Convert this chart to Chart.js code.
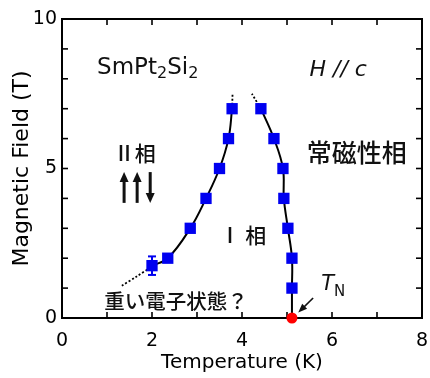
<!DOCTYPE html>
<html>
<head>
<meta charset="utf-8">
<script src="https://cdn.jsdelivr.net/npm/chart.js@4.4.0/dist/chart.umd.min.js"></script>
<style>
html, body { margin: 0; padding: 0; background: #fff; }
#grafico { display: block; }
</style>
</head>
<body>
<canvas id="grafico" width="430" height="378"></canvas>
<script>
// Datos: T (K) y H (T)
var tempIzq  = [2.0, 2.35, 2.85, 3.2, 3.5, 3.7, 3.78];
var campoIzq = [1.75, 2.0, 3.0, 4.0, 5.0, 6.0, 7.0];
var errorIzq = [0.31, 0, 0, 0, 0, 0, 0];
var tempDer  = [4.42, 4.71, 4.91, 4.93, 5.02, 5.11, 5.11];
var campoDer = [7.0, 6.0, 5.0, 4.0, 3.0, 2.0, 1.0];
var tempNeel  = [5.11];
var campoNeel = [0];

// curvas guia (solida y punteada)
var curvaDerT = [4.42, 4.71, 4.91, 4.93, 5.02, 5.11, 5.11, 5.11];
var curvaDerH = [7.0, 6.0, 5.0, 4.0, 3.0, 2.0, 1.0, 0];
var puntBajoT = [1.33, 1.65, 2.0];
var puntBajoH = [1.08, 1.38, 1.72];
var puntAltoIzqT = [3.78, 3.79];
var puntAltoIzqH = [7.0, 7.5];
var puntAltoDerT = [4.42, 4.22];
var puntAltoDerH = [7.0, 7.5];

// ejes
var ejeX = [0, 8];
var ejeY = [0, 10];
var etiquetasX = [0, 2, 4, 6, 8];
var etiquetasY = [0, 5, 10];

function puntos(ts, hs) {
    return ts.map(function (t, i) { return { x: t, y: hs[i] }; });
}

var fuenteNum = "'DejaVu Sans', 'Liberation Sans', Arial, sans-serif";
var fuenteJp = "'Noto Sans CJK JP', sans-serif";

// textos dentro del grafico (posicion en unidades de datos)
var textos = [
    { texto: 'H // c', t: 5.5, h: 8.3, fuente: 'italic 22px ' + fuenteNum },
    { texto: '常磁性相', t: 5.44, h: 5.55, fuente: '500 25px ' + fuenteJp },
    { texto: 'Ⅱ相', t: 1.15, h: 5.52, fuente: '500 21px ' + fuenteJp },
    { texto: 'Ⅰ 相', t: 3.5, h: 2.78, fuente: '500 21px ' + fuenteJp },
    { texto: '重い電子状態？', t: 0.94, h: 0.57, fuente: '500 20.5px ' + fuenteJp }
];

function linea(ctx, x1, y1, x2, y2) {
    ctx.beginPath();
    ctx.moveTo(x1, y1);
    ctx.lineTo(x2, y2);
    ctx.stroke();
}

function flecha(ctx, x1, y1, x2, y2, ancho, largo) {
    var ang = Math.atan2(y2 - y1, x2 - x1);
    linea(ctx, x1, y1, x2 - Math.cos(ang) * largo * 0.6, y2 - Math.sin(ang) * largo * 0.6);
    ctx.beginPath();
    ctx.moveTo(x2, y2);
    ctx.lineTo(x2 - Math.cos(ang) * largo + Math.sin(ang) * ancho / 2, y2 - Math.sin(ang) * largo - Math.cos(ang) * ancho / 2);
    ctx.lineTo(x2 - Math.cos(ang) * largo - Math.sin(ang) * ancho / 2, y2 - Math.sin(ang) * largo + Math.cos(ang) * ancho / 2);
    ctx.closePath();
    ctx.fill();
}

// marco, marcas hacia adentro y barras de error
var pluginMarco = {
    id: 'marco',
    beforeDatasetsDraw: function (chart) {
        var ctx = chart.ctx, a = chart.chartArea;
        var xs = chart.scales.x, ys = chart.scales.y;
        ctx.save();
        ctx.strokeStyle = '#000';
        ctx.lineWidth = 1.6;
        xs.ticks.forEach(function (tk) {
            var px = xs.getPixelForValue(tk.value);
            linea(ctx, px, a.bottom, px, a.bottom - 6);
            linea(ctx, px, a.top, px, a.top + 6);
        });
        ys.ticks.forEach(function (tk) {
            var py = ys.getPixelForValue(tk.value);
            linea(ctx, a.left, py, a.left + 6, py);
            linea(ctx, a.right, py, a.right - 6, py);
        });
        ctx.lineWidth = 2;
        ctx.strokeRect(a.left, a.top, a.right - a.left, a.bottom - a.top);

        // barras de error
        ctx.strokeStyle = '#0000f0';
        ctx.lineWidth = 2;
        tempIzq.forEach(function (t, i) {
            if (!errorIzq[i]) return;
            var px = xs.getPixelForValue(t);
            var y1 = ys.getPixelForValue(campoIzq[i] - errorIzq[i]);
            var y2 = ys.getPixelForValue(campoIzq[i] + errorIzq[i]);
            linea(ctx, px, y1, px, y2);
            linea(ctx, px - 4, y1, px + 4, y1);
            linea(ctx, px - 4, y2, px + 4, y2);
        });
        ctx.restore();
    },
    afterDatasetsDraw: function (chart) {
        var ctx = chart.ctx;
        var xs = chart.scales.x, ys = chart.scales.y;
        ctx.save();
        ctx.fillStyle = '#111';
        ctx.strokeStyle = '#111';
        ctx.textBaseline = 'middle';
        ctx.textAlign = 'left';

        textos.forEach(function (o) {
            ctx.font = o.fuente;
            ctx.fillText(o.texto, xs.getPixelForValue(o.t), ys.getPixelForValue(o.h));
        });

        // SmPt2Si2 con subindices
        var x = xs.getPixelForValue(0.78), y = ys.getPixelForValue(8.36);
        var partes = [['Sm', 0], ['Pt', 0], ['2', 1], ['Si', 0], ['2', 1]];
        partes.forEach(function (p) {
            ctx.font = p[1] ? '16px ' + fuenteNum : '23px ' + fuenteNum;
            ctx.fillText(p[0], x, y + (p[1] ? 6 : 0));
            x += ctx.measureText(p[0]).width;
        });

        // T_N
        x = xs.getPixelForValue(5.76); y = ys.getPixelForValue(1.12);
        ctx.font = 'italic 21px ' + fuenteNum;
        ctx.fillText('T', x, y);
        x += ctx.measureText('T').width;
        ctx.font = '15px ' + fuenteNum;
        ctx.fillText('N', x, y + 8);

        // flecha hacia T_N
        ctx.lineWidth = 1.6;
        flecha(ctx, xs.getPixelForValue(5.58), ys.getPixelForValue(0.67),
            xs.getPixelForValue(5.25), ys.getPixelForValue(0.18), 7, 9);

        // espines: arriba, arriba, abajo
        ctx.lineWidth = 3;
        var yArr = ys.getPixelForValue(4.88), yAbj = ys.getPixelForValue(3.85);
        [1.38, 1.67].forEach(function (t) {
            var px = xs.getPixelForValue(t);
            flecha(ctx, px, yAbj, px, yArr, 9, 10);
        });
        var pd = xs.getPixelForValue(1.96);
        flecha(ctx, pd, yArr, pd, yAbj, 9, 10);
        ctx.restore();
    }
};

var azul = '#0000f0';

new Chart(document.getElementById('grafico'), {
    type: 'scatter',
    data: {
        datasets: [
            { data: puntos(tempNeel, campoNeel), pointStyle: 'circle', pointRadius: 5.5, backgroundColor: '#f00', borderWidth: 0, clip: false },
            { data: puntos(tempIzq, campoIzq), pointStyle: 'rect', pointRadius: 8, backgroundColor: azul, borderWidth: 0 },
            { data: puntos(tempDer, campoDer), pointStyle: 'rect', pointRadius: 8, backgroundColor: azul, borderWidth: 0 },
            { data: puntos(tempIzq, campoIzq), showLine: true, pointRadius: 0, borderColor: '#000', borderWidth: 2, tension: 0.4 },
            { data: puntos(curvaDerT, curvaDerH), showLine: true, pointRadius: 0, borderColor: '#000', borderWidth: 2, tension: 0.4 },
            { data: puntos(puntBajoT, puntBajoH), showLine: true, pointRadius: 0, borderColor: '#000', borderWidth: 1.8, borderDash: [2, 2], tension: 0.3 },
            { data: puntos(puntAltoIzqT, puntAltoIzqH), showLine: true, pointRadius: 0, borderColor: '#000', borderWidth: 1.8, borderDash: [2, 2] },
            { data: puntos(puntAltoDerT, puntAltoDerH), showLine: true, pointRadius: 0, borderColor: '#000', borderWidth: 1.8, borderDash: [2, 2] }
        ]
    },
    options: {
        responsive: false,
        animation: false,
        layout: { padding: { top: 19, right: 8, left: 0, bottom: 0 } },
        plugins: { legend: { display: false }, tooltip: { enabled: false } },
        scales: {
            x: {
                type: 'linear', min: ejeX[0], max: ejeX[1],
                afterFit: function (s) { s.height = 60; s.paddingLeft = 0; s.paddingRight = 0; },
                grid: { display: false, drawTicks: false },
                border: { display: false },
                ticks: {
                    stepSize: 1, padding: 12, color: '#000',
                    font: { family: fuenteNum, size: 19 },
                    callback: function (v) { return etiquetasX.indexOf(v) >= 0 ? String(v) : ''; }
                },
                title: { display: true, text: 'Temperature (K)', color: '#000',
                    font: { family: fuenteNum, size: 20 }, padding: { top: 0, bottom: 3 } }
            },
            y: {
                type: 'linear', min: ejeY[0], max: ejeY[1],
                afterFit: function (s) { s.width = 62; },
                grid: { display: false, drawTicks: false },
                border: { display: false },
                ticks: {
                    stepSize: 1, padding: 5, color: '#000',
                    font: { family: fuenteNum, size: 19 },
                    callback: function (v) { return etiquetasY.indexOf(v) >= 0 ? String(v) : ''; }
                },
                title: { display: true, text: 'Magnetic Field (T)', color: '#000',
                    font: { family: fuenteNum, size: 22 }, padding: { top: 9, bottom: 0 } }
            }
        }
    },
    plugins: [pluginMarco]
});
</script>
</body>
</html>
